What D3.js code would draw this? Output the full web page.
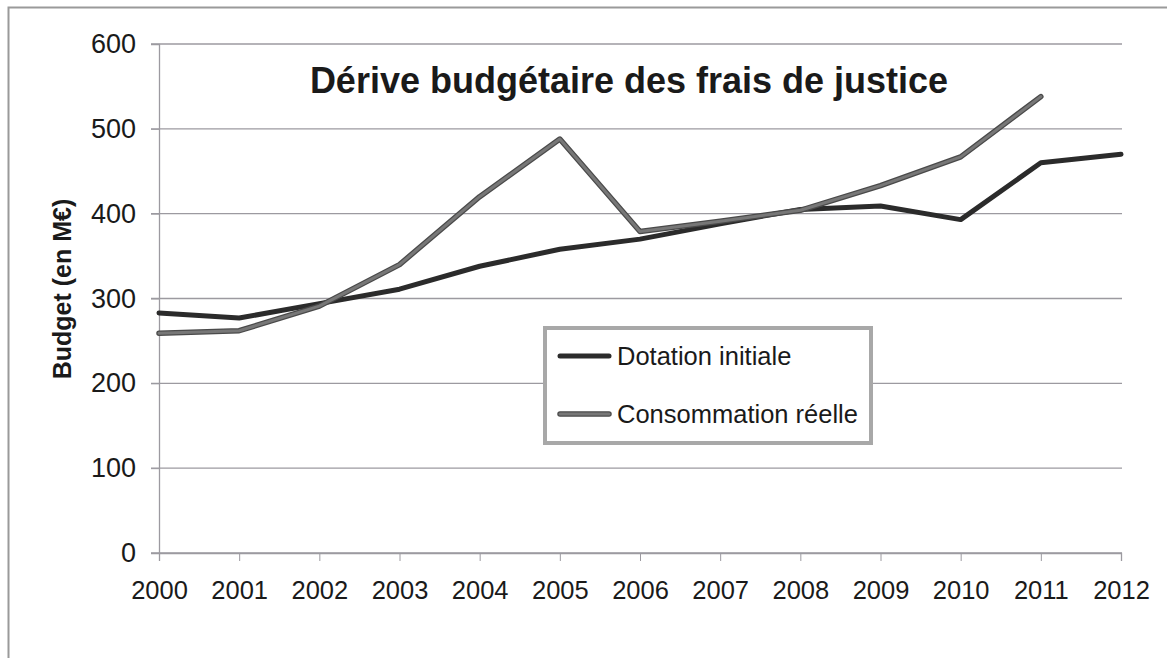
<!DOCTYPE html>
<html>
<head>
<meta charset="utf-8">
<script src="https://cdn.jsdelivr.net/npm/d3@7"></script>
<style>
  html, body { margin: 0; padding: 0; background: #fff; }
  svg { display: block; font-family: "Liberation Sans", Arial, sans-serif; }
</style>
</head>
<body>
<svg id="chart" width="1167" height="658"></svg>
<script>
const years = [2000, 2001, 2002, 2003, 2004, 2005, 2006, 2007, 2008, 2009, 2010, 2011, 2012];
const dotationInitiale = [283, 277, 294, 311, 338, 358, 370, 388, 405, 409, 393, 460, 470];
const consommationReelle = [259, 262, 291, 340, 420, 488, 379, 391, 404, 433, 467, 538, null];
const yTicks = [0, 100, 200, 300, 400, 500, 600];
const seriesNames = ["Dotation initiale", "Consommation réelle"];
const titleText = "Dérive budgétaire des frais de justice";
const yTitle = "Budget (en M€)";

(function () {
const svg = d3.select("#chart");
const pLeft = 159, pRight = 1121, pTop = 44, pBottom = 553;

// outer frame
svg.append("rect").attr("x", 8.5).attr("y", 7.5).attr("width", 1163).attr("height", 680)
  .attr("fill", "none").attr("stroke", "#9a9a9a").attr("stroke-width", 2);

const x = d3.scalePoint().domain(years).range([pLeft, pRight]);
const y = d3.scaleLinear().domain([0, 600]).range([pBottom, pTop]);

// gridlines
svg.append("g").selectAll("line").data(yTicks).join("line")
  .attr("x1", pLeft - 8).attr("x2", pRight + 1)
  .attr("y1", d => y(d)).attr("y2", d => y(d))
  .attr("stroke", "#9c9aa0").attr("stroke-width", 1.3);

// y axis
const yAxis = svg.append("g").attr("transform", `translate(${pLeft},0)`)
  .call(d3.axisLeft(y).tickValues(yTicks).tickSize(8).tickPadding(15));
yAxis.select(".domain").attr("stroke", "#9c9aa0").attr("stroke-width", 1.3);
yAxis.selectAll(".tick line").attr("stroke", "#9c9aa0");
yAxis.selectAll("text").attr("font-size", 27).attr("fill", "#1a1a1a")
  .attr("font-family", "Liberation Sans, Arial, sans-serif");

// x axis
const xAxis = svg.append("g").attr("transform", `translate(0,${pBottom})`)
  .call(d3.axisBottom(x).tickSize(8).tickPadding(20).tickFormat(d3.format("d")));
xAxis.select(".domain").attr("stroke", "#9c9aa0").attr("stroke-width", 1.3);
xAxis.selectAll(".tick line").attr("stroke", "#9c9aa0");
xAxis.selectAll("text").attr("font-size", 25.5).attr("fill", "#1a1a1a")
  .attr("font-family", "Liberation Sans, Arial, sans-serif");

// y title
svg.append("text")
  .attr("transform", `translate(71,289) rotate(-90)`)
  .attr("text-anchor", "middle")
  .attr("font-size", 25).attr("font-weight", "bold").attr("fill", "#1a1a1a")
  .text(yTitle);

// title
svg.append("text")
  .attr("x", 629).attr("y", 93)
  .attr("text-anchor", "middle")
  .attr("font-size", 36).attr("font-weight", "bold").attr("fill", "#1a1a1a")
  .text(titleText);

// lines
const line = d3.line()
  .defined(d => d.v != null)
  .x(d => x(d.year)).y(d => y(d.v));

const dotData = years.map((yr, i) => ({ year: yr, v: dotationInitiale[i] }));
const consData = years.map((yr, i) => ({ year: yr, v: consommationReelle[i] }));

svg.append("path").datum(dotData).attr("d", line)
  .attr("fill", "none").attr("stroke", "#2b2b2b").attr("stroke-width", 5)
  .attr("stroke-linejoin", "round").attr("stroke-linecap", "round");

svg.append("path").datum(consData).attr("d", line)
  .attr("fill", "none").attr("stroke", "#4a4a4a").attr("stroke-width", 5.5)
  .attr("stroke-linejoin", "round").attr("stroke-linecap", "round");
svg.append("path").datum(consData).attr("d", line)
  .attr("fill", "none").attr("stroke", "#777777").attr("stroke-width", 3)
  .attr("stroke-linejoin", "round").attr("stroke-linecap", "round");

// legend
const lg = svg.append("g");
lg.append("rect").attr("x", 545).attr("y", 328).attr("width", 326).attr("height", 115)
  .attr("fill", "#fff").attr("stroke", "#a8a8a8").attr("stroke-width", 4);
const legColors = [["#2b2b2b", null], ["#4a4a4a", "#777777"]];
seriesNames.forEach((name, i) => {
  const ly = 356 + i * 58;
  lg.append("line").attr("x1", 560).attr("x2", 609).attr("y1", ly).attr("y2", ly)
    .attr("stroke", legColors[i][0]).attr("stroke-width", i ? 5.5 : 5).attr("stroke-linecap", "round");
  if (legColors[i][1]) {
    lg.append("line").attr("x1", 560).attr("x2", 609).attr("y1", ly).attr("y2", ly)
      .attr("stroke", legColors[i][1]).attr("stroke-width", 3).attr("stroke-linecap", "round");
  }
  lg.append("text").attr("x", 617).attr("y", ly + 9)
    .attr("font-size", 25.5).attr("fill", "#1a1a1a").text(name);
});
})();
</script>
</body>
</html>
